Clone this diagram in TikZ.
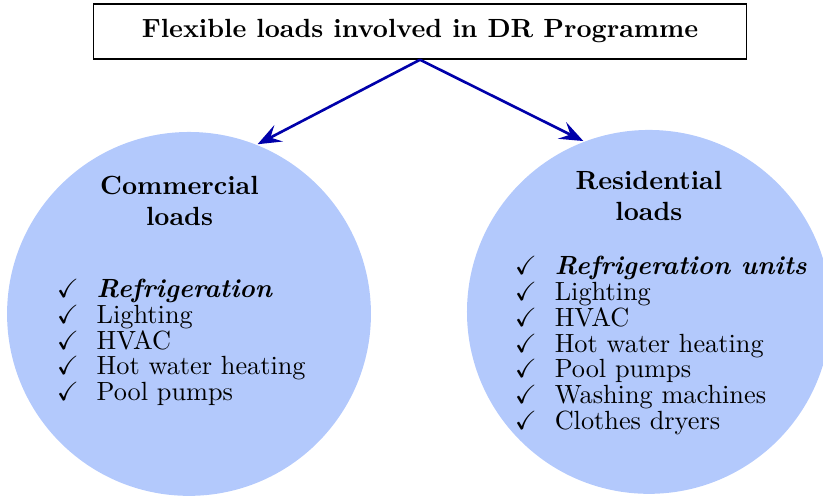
\documentclass[tikz,border=0pt]{standalone}
\usepackage{amsmath,amssymb}
\usepackage{tikz}
\usetikzlibrary{arrows.meta,positioning}

\definecolor{loadblue}{RGB}{179,201,252}
\definecolor{arrowblue}{RGB}{0,0,170}

\begin{document}
\begin{tikzpicture}[
                        >={Stealth[length=9pt,width=7pt,inset=3.5pt]},
                        on grid,
                        thick
                    ]
                    \tikzstyle{title}=[draw=black,semithick,minimum width=8.73cm,minimum height=0.735cm,font=\bfseries]
                    \tikzstyle{load}=[circle,fill=loadblue,minimum size=4.865cm,inner sep=0pt]
                    \tikzstyle{head}=[align=center,font=\bfseries]
                    \tikzstyle{list}=[align=left,inner sep=0pt,anchor=west,font=\linespread{0.82}\selectfont]
                    \tikzstyle{link}=[->,draw=arrowblue,line width=1pt]

                    \useasboundingbox (-5.615,-6.29) rectangle (5.388,0.421);

                    \node[title] (F) at (0,0) {Flexible loads involved in DR Programme} ;
                    \node[load]  (C) [below left=3.776cm and 3.088cm of F] {} ;
                    \node[load]  (R) [below right=3.749cm and 3.061cm of F] {} ;

                    % headings and lists inside the circles
                    \node[head]  (Ch) [above left=1.51cm and 0.127cm of C] {Commercial\\loads} ;
                    \node[head]  (Rh) [above=1.55cm of R] {Residential\\loads} ;
                    \node[list]  (Cl) at ([xshift=-1.78cm,yshift=-0.38cm]C.center)
                        {\checkmark\hspace{6.8pt}\textbf{\textit{Refrigeration}}\\
                         \checkmark\hspace{6.8pt}Lighting\\
                         \checkmark\hspace{6.8pt}HVAC\\
                         \checkmark\hspace{6.8pt}Hot water heating\\
                         \checkmark\hspace{6.8pt}Pool pumps} ;
                    \node[list]  (Rl) at ([xshift=-1.805cm,yshift=-0.45cm]R.center)
                        {\checkmark\hspace{6.8pt}\textbf{\textit{Refrigeration units}}\\
                         \checkmark\hspace{6.8pt}Lighting\\
                         \checkmark\hspace{6.8pt}HVAC\\
                         \checkmark\hspace{6.8pt}Hot water heating\\
                         \checkmark\hspace{6.8pt}Pool pumps\\
                         \checkmark\hspace{6.8pt}Washing machines\\
                         \checkmark\hspace{6.8pt}Clothes dryers} ;

                    \path
                    (F.south) edge [link] (C.68)
                    (F.south) edge [link] (R.111) ;
                \end{tikzpicture}
\end{document}
